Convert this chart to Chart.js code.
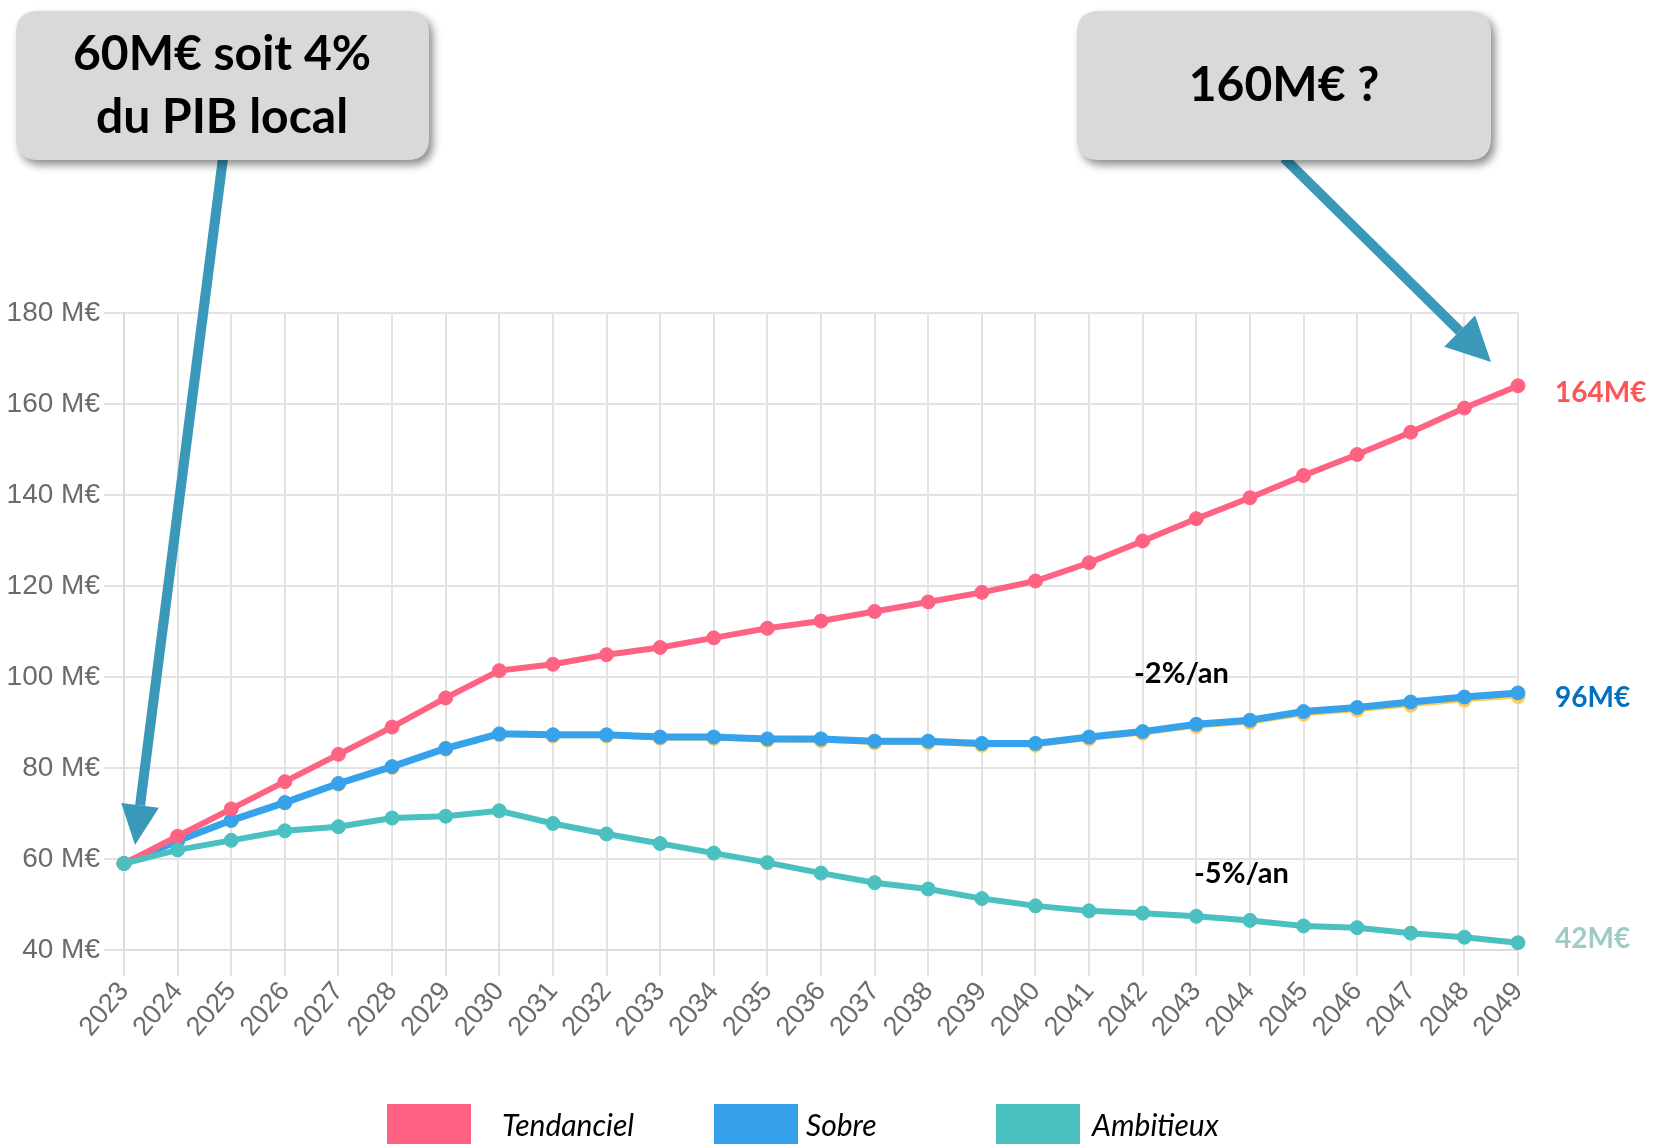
<!DOCTYPE html>
<html><head><meta charset="utf-8">
<script src="https://cdn.jsdelivr.net/npm/chart.js@4/dist/chart.umd.min.js"></script>
<style>html,body{margin:0;padding:0;background:#fff;overflow:hidden}#wrap{width:1653px;height:1144px;position:relative}</style>
</head><body><div id="wrap"><canvas id="c" width="1653" height="1144"></canvas></div>
<script>
const years = ['2023','2024','2025','2026','2027','2028','2029','2030','2031','2032','2033','2034','2035','2036','2037','2038','2039','2040','2041','2042','2043','2044','2045','2046','2047','2048','2049'];
const tendanciel = [59,65,71,77,83,89,95.4,101.4,102.8,104.9,106.5,108.6,110.7,112.3,114.4,116.5,118.6,121.1,125.1,129.9,134.8,139.4,144.3,148.9,153.8,159.1,164];
const sobre = [59,64,68.5,72.4,76.6,80.3,84.3,87.5,87.3,87.3,86.8,86.8,86.4,86.4,85.9,85.9,85.4,85.4,86.8,88,89.6,90.5,92.4,93.3,94.5,95.6,96.5];
const ambitieux = [59,62,64.1,66.2,67.1,69,69.4,70.6,67.8,65.5,63.4,61.3,59.2,56.9,54.8,53.4,51.3,49.7,48.6,48.1,47.4,46.5,45.3,44.9,43.7,42.8,41.6];
const sobreVariante = [59,64,68.4,72.3,76.4,80.1,84.1,87.3,87,87,86.5,86.5,86.1,86,85.5,85.5,85,85,86.4,87.6,89.1,90,91.8,92.7,93.8,94.9,95.7];
const seriesNames = ['Tendanciel','Sobre','Ambitieux'];
const endLabels = ['164M€','96M€','42M€'];
const rateLabels = ['-2%/an','-5%/an'];
const calloutLeft = ['60M€ soit 4%','du PIB local'];
const calloutRight = ['160M€ ?'];

const RED='rgb(255,99,132)', BLUE='rgb(54,162,235)', TEAL='rgb(75,192,192)', YEL='rgb(255,205,86)';
const GRID='#e3e3e3';

function ds(label,data,color,order,w){
  return {label,data,borderColor:color,backgroundColor:color,borderWidth:w,pointRadius:7,pointHoverRadius:7,
    pointBorderWidth:1,pointBackgroundColor:color,pointBorderColor:color,tension:0,fill:false,order};
}

function roundRect(ctx,x,y,w,h,r){
  ctx.beginPath();
  ctx.moveTo(x+r,y);ctx.lineTo(x+w-r,y);ctx.quadraticCurveTo(x+w,y,x+w,y+r);
  ctx.lineTo(x+w,y+h-r);ctx.quadraticCurveTo(x+w,y+h,x+w-r,y+h);
  ctx.lineTo(x+r,y+h);ctx.quadraticCurveTo(x,y+h,x,y+h-r);
  ctx.lineTo(x,y+r);ctx.quadraticCurveTo(x,y,x+r,y);ctx.closePath();
}
function arrow(ctx,x1,y1,x2,y2,shaft,headLen,headHalf,color){
  const a=Math.atan2(y2-y1,x2-x1);
  const bx=x2-headLen*Math.cos(a), by=y2-headLen*Math.sin(a);
  ctx.save();
  ctx.strokeStyle=color;ctx.fillStyle=color;ctx.lineWidth=shaft;ctx.lineCap='butt';
  ctx.beginPath();ctx.moveTo(x1,y1);ctx.lineTo(bx,by);ctx.stroke();
  const px=-Math.sin(a), py=Math.cos(a);
  ctx.beginPath();ctx.moveTo(x2,y2);
  ctx.lineTo(bx+px*headHalf,by+py*headHalf);
  ctx.lineTo(bx-px*headHalf,by-py*headHalf);
  ctx.closePath();ctx.fill();
  ctx.restore();
}
function callout(ctx,x,y,w,h,lines,lineYs,cx){
  ctx.save();
  ctx.shadowColor='rgba(0,0,0,0.45)';ctx.shadowBlur=9;ctx.shadowOffsetX=4;ctx.shadowOffsetY=5;
  roundRect(ctx,x,y,w,h,22);ctx.fillStyle='#d9d9d9';ctx.fill();
  ctx.restore();
  ctx.save();
  ctx.fillStyle='#000';ctx.font='bold 48px Lato';ctx.textAlign='center';ctx.textBaseline='middle';
  lines.forEach((t,i)=>ctx.fillText(t,cx,lineYs[i]));
  ctx.restore();
}

const annot = {
  id:'annot',
  afterDraw(chart){
    const ctx=chart.ctx, ys=chart.scales.y;
    const last=years.length-1;
    const AR='#3a98b8';
    arrow(ctx,223,158,135,845,10,40,19,AR);
    arrow(ctx,1284,158,1491,362,10,44,22,AR);
    callout(ctx,16,11,413,149,calloutLeft,[55,118],222);
    callout(ctx,1077,11,414,149,calloutRight,[86],1284);
    ctx.save();ctx.font='bold 28px Lato';ctx.textAlign='left';ctx.textBaseline='middle';
    const ex=1555;
    ctx.fillStyle='#ff5454';ctx.fillText(endLabels[0],ex,ys.getPixelForValue(tendanciel[last])+7);
    ctx.fillStyle='#0070c0';ctx.fillText(endLabels[1],ex,ys.getPixelForValue(sobre[last])+5);
    ctx.fillStyle='#9ecbc3';ctx.fillText(endLabels[2],ex,ys.getPixelForValue(ambitieux[last])-4);
    ctx.fillStyle='#000';ctx.font='bold 29px Lato';
    ctx.fillText(rateLabels[0],1134,674);
    ctx.fillText(rateLabels[1],1194,874);
    ctx.restore();
    ctx.save();
    const bx=[387,714,996], tx=[502,806,1092], cols=[RED,BLUE,TEAL];
    ctx.font='italic 30px Lato';ctx.textBaseline='middle';ctx.textAlign='left';
    seriesNames.forEach((n,i)=>{
      ctx.fillStyle=cols[i];ctx.fillRect(bx[i],1104,84,50);
      ctx.fillStyle='#000';ctx.fillText(n,tx[i],1126);
    });
    ctx.restore();
  }
};

new Chart(document.getElementById('c'),{
  type:'line',
  data:{labels:years,datasets:[
    ds(seriesNames[0],tendanciel,RED,1,6),
    ds(seriesNames[1],sobre,BLUE,2,7),
    ds(seriesNames[2],ambitieux,TEAL,0,6),
    ds('variante',sobreVariante,YEL,3,4)
  ]},
  options:{
    responsive:false,animation:false,devicePixelRatio:1,
    layout:{padding:{top:313,right:135,bottom:0,left:0}},
    plugins:{legend:{display:false},tooltip:{enabled:false}},
    scales:{
      x:{
        grid:{color:GRID,lineWidth:2,tickLength:26,drawTicks:true},
        border:{color:'#dcdcdc',width:2},
        ticks:{autoSkip:false,minRotation:50,maxRotation:50,padding:0,color:'#6b6b6b',font:{family:'Liberation Sans, Arial',size:27}},
        afterFit(s){s.height=194;}
      },
      y:{
        min:40,max:180,
        grid:{color:GRID,lineWidth:2,tickLength:20},
        border:{color:'#dcdcdc',width:2},
        ticks:{stepSize:20,padding:4,color:'#6b6b6b',font:{family:'Liberation Sans, Arial',size:28},callback:v=>v+' M€'},
        afterFit(s){s.width=124;}
      }
    }
  },
  plugins:[annot]
});
</script></body></html>
